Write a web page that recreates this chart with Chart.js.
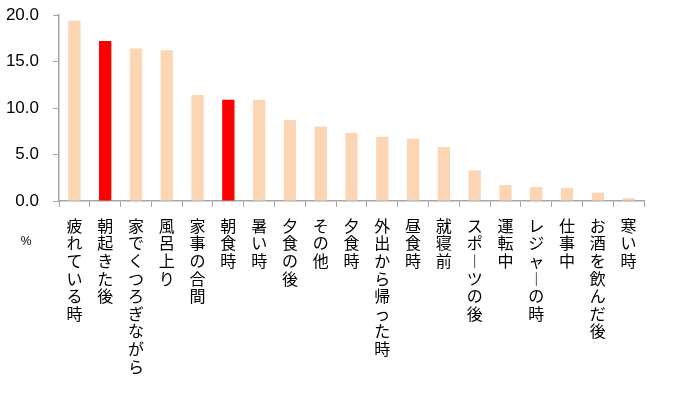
<!DOCTYPE html>
<html>
<head>
<meta charset="utf-8">
<script src="https://cdn.jsdelivr.net/npm/chart.js@4"></script>
<style>
    html, body { margin: 0; padding: 0; background: #ffffff; }
    #wrap { position: relative; width: 692px; height: 399px; }
</style>
</head>
<body>
<div id="wrap"><canvas id="chart-drink"></canvas></div>
<script>
const categories = [
    '疲れている時', '朝起きた後', '家でくつろぎながら', '風呂上り', '家事の合間',
    '朝食時', '暑い時', '夕食の後', 'その他', '夕食時', '外出から帰った時',
    '昼食時', '就寝前', 'スポーツの後', '運転中', 'レジャーの時', '仕事中',
    'お酒を飲んだ後', '寒い時'
];
const values = [19.4, 17.2, 16.4, 16.2, 11.4, 10.9, 10.9, 8.7, 8.0, 7.3, 6.9, 6.7, 5.8, 3.3, 1.7, 1.5, 1.4, 0.9, 0.3];
const highlighted = ['朝起きた後', '朝食時'];
const yTicks = [0, 5, 10, 15, 20];
const unitLabel = '%';

(function () {
    const peach = '#fcd5b4';
    const red = '#ff0000';
    const axisGray = '#a6a6a6';

    // 縦書き風: 1文字ずつ改行、長音は縦棒に置き換える
    function verticalLabel(s) {
        return Array.from(s).map(function (ch) {
            return ch === 'ー' ? '︱' : ch;
        });
    }

    const unitPlugin = {
        id: 'unitLabel',
        afterDraw: function (chart) {
            const ctx = chart.ctx;
            ctx.save();
            ctx.fillStyle = '#000000';
            ctx.font = '12px "Liberation Sans", Arial, sans-serif';
            ctx.textAlign = 'center';
            ctx.textBaseline = 'middle';
            ctx.fillText(unitLabel, 26, 242);
            ctx.restore();
        },
    };

    new Chart(document.getElementById('chart-drink').getContext('2d'), {
        type: 'bar',
        data: {
            labels: categories.map(verticalLabel),
            datasets: [
                {
                    data: values,
                    backgroundColor: categories.map(function (c) {
                        return highlighted.indexOf(c) >= 0 ? red : peach;
                    }),
                    borderWidth: 0,
                    barPercentage: 0.8,
                    categoryPercentage: 0.5,
                },
            ],
        },
        options: {
            responsive: true,
            maintainAspectRatio: false,
            animation: false,
            layout: { padding: { top: 15, right: 48, left: 0, bottom: 0 } },
            plugins: {
                legend: { display: false },
                tooltip: { enabled: false },
            },
            scales: {
                x: {
                    grid: {
                        offset: true,
                        drawOnChartArea: false,
                        color: axisGray,
                        tickLength: 6,
                    },
                    border: { color: axisGray, width: 1.5 },
                    ticks: {
                        color: '#000000',
                        maxRotation: 0,
                        minRotation: 0,
                        autoSkip: false,
                        padding: 10,
                        font: { family: '"Noto Sans CJK JP", sans-serif', size: 16, lineHeight: 1.1 },
                    },
                    afterFit: function (scale) {
                        scale.height = 198;
                        scale.paddingLeft = 0;
                        scale.paddingRight = 0;
                    },
                },
                y: {
                    min: 0,
                    max: 20,
                    afterBuildTicks: function (scale) {
                        scale.ticks = yTicks.map(function (v) { return { value: v }; });
                    },
                    grid: {
                        drawOnChartArea: false,
                        color: axisGray,
                        tickLength: 6,
                    },
                    border: { color: axisGray, width: 1.5 },
                    ticks: {
                        color: '#000000',
                        padding: 14,
                        font: { family: '"Liberation Sans", Arial, sans-serif', size: 17 },
                        callback: function (v) {
                            return Number(v).toFixed(1);
                        },
                    },
                    afterFit: function (scale) {
                        scale.width = 59;
                        scale.paddingTop = 0;
                        scale.paddingBottom = 0;
                    },
                },
            },
        },
        plugins: [unitPlugin],
    });
})();
</script>
</body>
</html>
